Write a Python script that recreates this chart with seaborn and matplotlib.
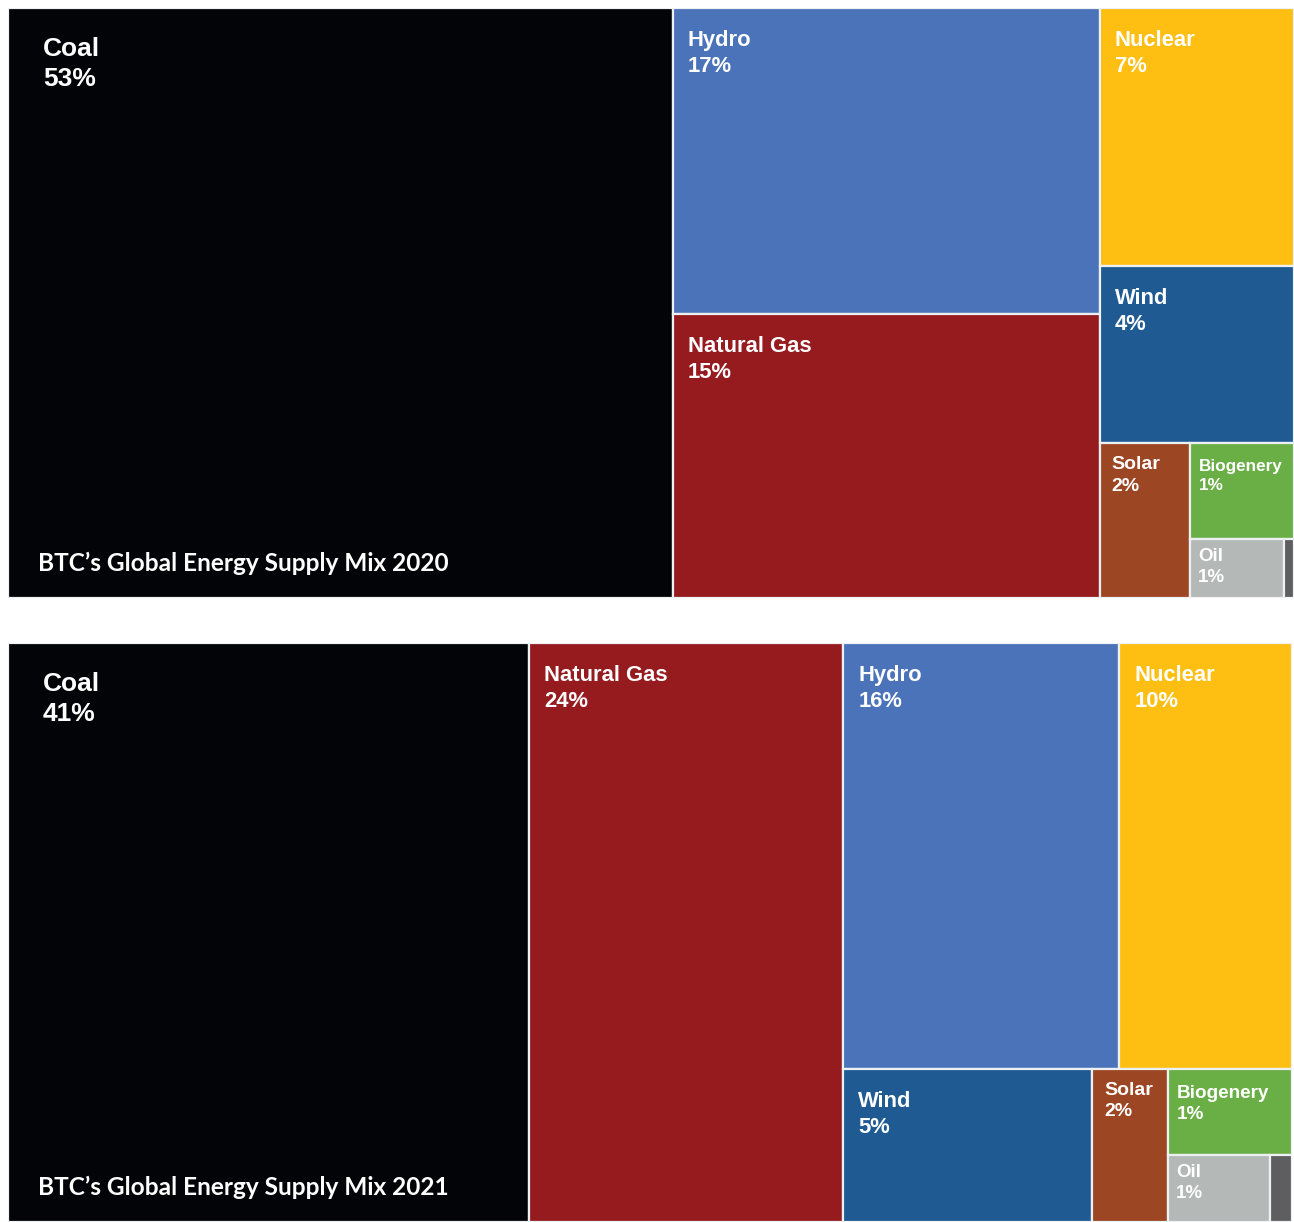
import matplotlib
matplotlib.use("Agg")
import matplotlib.pyplot as plt
from matplotlib.patches import Rectangle
import seaborn as sns

sns.set_theme(style="white")
plt.rcParams['font.family'] = ['Liberation Sans', 'DejaVu Sans']

# ---- data ----
categories = ["Coal", "Hydro", "Natural Gas", "Nuclear", "Wind",
              "Solar", "Biogenery", "Oil", "Other"]
colors = ["#030407", "#4A73B9", "#961B1F", "#FEBF12", "#1F5B92",
          "#9D4623", "#6AAE46", "#B4B8B7", "#5E5D5F"]
# area shares
share_2020 = [51.7, 17.2, 16.0, 6.6, 4.55, 1.84, 1.31, 0.73, 0.08]
share_2021 = [40.6, 15.8, 24.45, 9.9, 5.12, 1.56, 1.43, 0.92, 0.20]
# printed percentages
label_2020 = ["53%", "17%", "15%", "7%", "4%", "2%", "1%", "1%", ""]
label_2021 = ["41%", "16%", "24%", "10%", "5%", "2%", "1%", "1%", ""]
titles = ["BTC\u2019s Global Energy Supply Mix 2020",
          "BTC\u2019s Global Energy Supply Mix 2021"]

# nesting of the treemap ('h' = side by side, 'v' = stacked)
tree_2020 = ('h', [0, ('v', [1, 2]),
                   ('v', [3, 4, ('h', [5, ('v', [6, ('h', [7, 8])])])])])
tree_2021 = ('h', [0, 2, ('v', [('h', [1, 3]),
                                ('h', [4, 5, ('v', [6, ('h', [7, 8])])])])])

size_2020 = {"Coal": 19, "Solar": 14, "Biogenery": 12.3, "Oil": 13.5}
size_2021 = {"Coal": 19, "Solar": 14, "Biogenery": 13.6, "Oil": 13.5}
label_off = {"Coal": (35, 29), "Solar": (12, 13), "Biogenery": (9, 16),
             "Oil": (8, 9)}


def total(node, vals):
    if isinstance(node, int):
        return vals[node]
    return sum(total(c, vals) for c in node[1])


def layout(node, vals, x, y, w, h, out):
    if isinstance(node, int):
        out.append((node, x, y, w, h))
        return
    d, kids = node
    tot = total(node, vals)
    pos = 0.0
    for k in kids:
        f = total(k, vals) / tot
        if d == 'h':
            layout(k, vals, x + pos * w, y, f * w, h, out)
        else:
            layout(k, vals, x, y + pos * h, w, f * h, out)
        pos += f


fig = plt.figure(figsize=(12.94, 12.22), dpi=100)
fig.patch.set_facecolor("white")

panels = [
    ([8 / 1294, 1 - 598 / 1222, 1286 / 1294, 590 / 1222],
     tree_2020, share_2020, label_2020, titles[0], size_2020),
    ([8 / 1294, 0.0, 1284 / 1294, 579 / 1222],
     tree_2021, share_2021, label_2021, titles[1], size_2021),
]

for rect, tree, vals, labs, title, sizes in panels:
    ax = fig.add_axes(rect)
    ax.set_xlim(0, 1)
    ax.set_ylim(1, 0)
    ax.set_axis_off()
    cells = []
    layout(tree, vals, 0, 0, 1, 1, cells)
    for idx, x, y, w, h in cells:
        ax.add_patch(Rectangle((x, y), w, h, facecolor=colors[idx],
                               edgecolor="#eef1f4", linewidth=1.6))
        name = categories[idx]
        if labs[idx]:
            fs = sizes.get(name, 15.8)
            dx, dy = label_off.get(name, (15, 22))
            ax.annotate(f"{name}\n{labs[idx]}", xy=(x, y),
                        xytext=(dx, -dy), textcoords="offset pixels",
                        ha="left", va="top", color="white",
                        fontsize=fs, fontweight="bold", linespacing=1.32)
    ax.annotate(title, xy=(0, 1), xytext=(30, 35),
                textcoords="offset pixels", ha="left", va="center",
                color="white", fontsize=17.6, fontweight="bold",
                family=["Lato", "DejaVu Sans"])

fig.savefig("out.png", dpi=100, facecolor="white")
